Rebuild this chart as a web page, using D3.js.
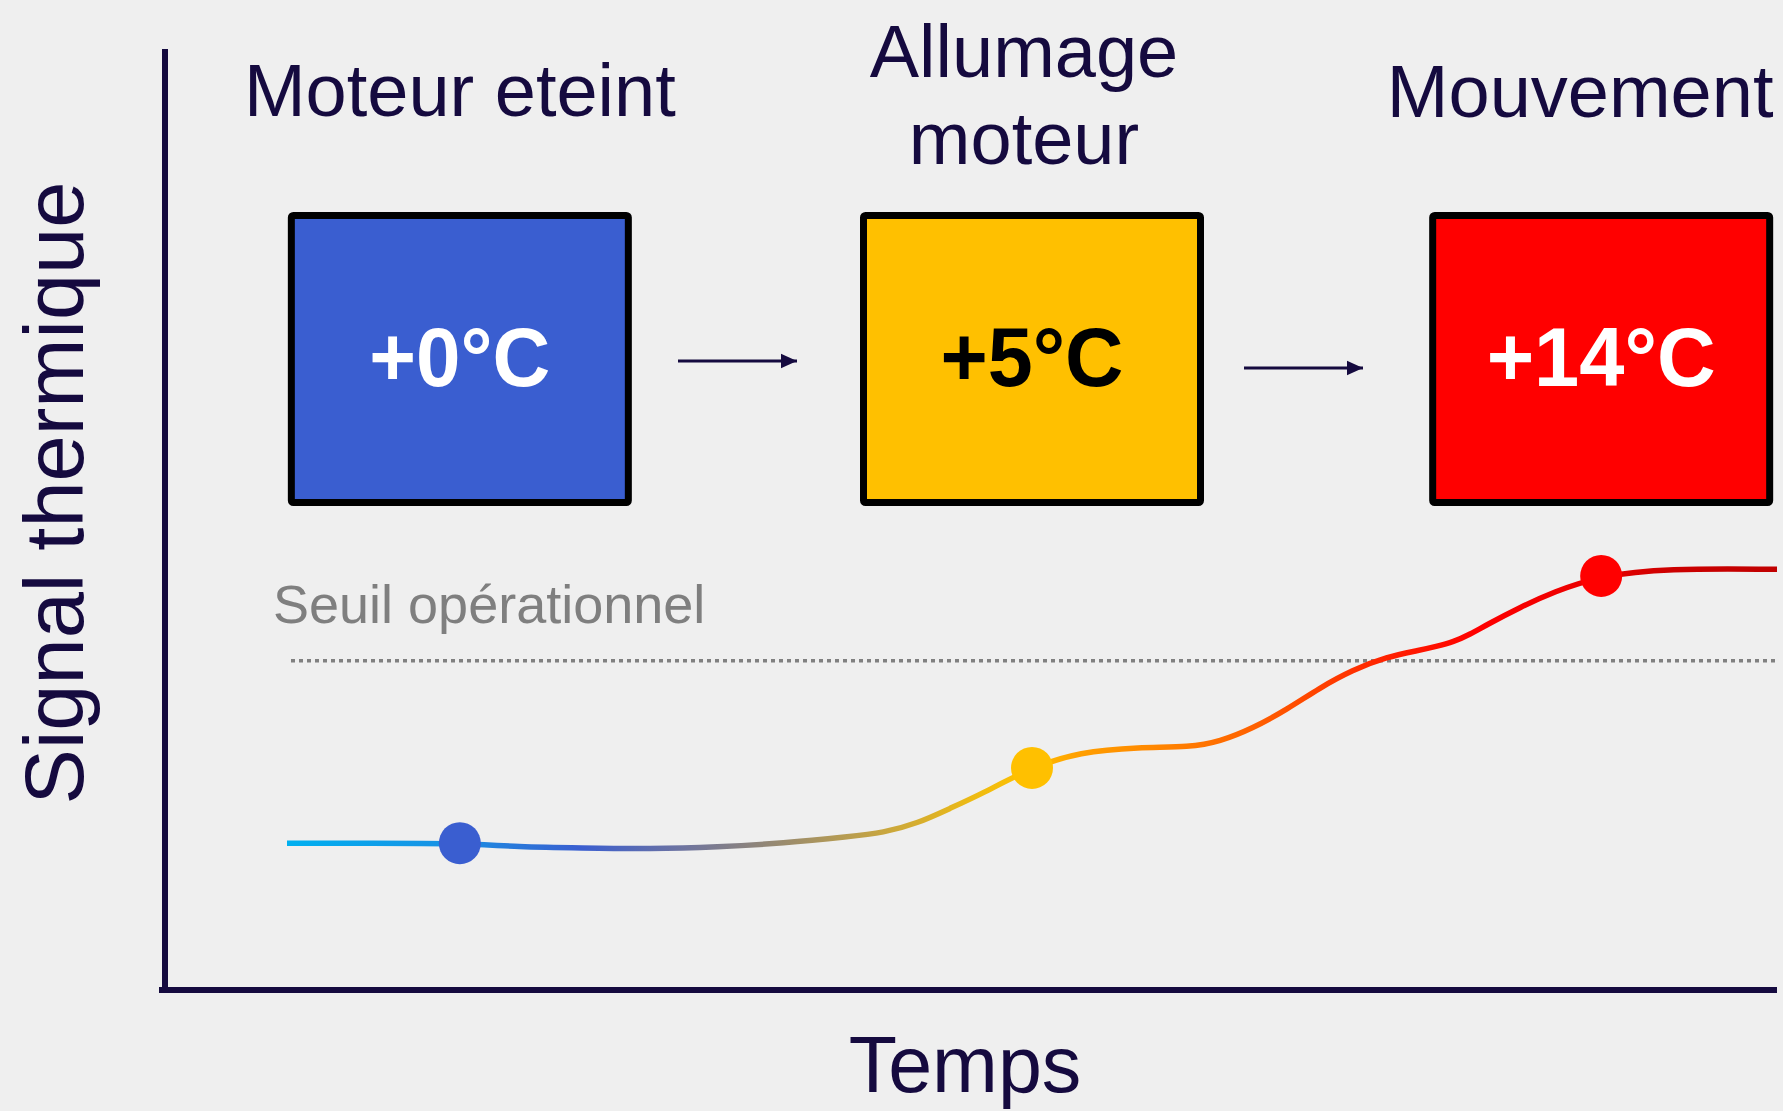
<!DOCTYPE html>
<html>
<head>
<meta charset="utf-8">
<script src="https://cdn.jsdelivr.net/npm/d3@7"></script>
<style>
  html, body { margin: 0; padding: 0; background: #efefef; }
  svg { display: block; font-family: "Liberation Sans", Arial, sans-serif; }
</style>
</head>
<body>
<div id="chart"></div>
<script>
// thermal signal over time (arbitrary units 0-100)
var curveTime   = [0, 5.7, 11.5, 15.6, 19.7, 24.4, 28.9, 33.3, 37.8, 40.0, 42.3, 44.5, 46.7, 49.9, 53.2, 57.2, 60.6, 62.6, 64.8, 67.1, 69.3, 71.5, 73.8, 76.0, 77.1, 78.3, 79.4, 80.5, 82.8, 85.0, 88.1, 92.6, 100];
var curveSignal = [15.6, 15.6, 15.6, 15.2, 15.1, 15.0, 15.2, 15.6, 16.3, 16.7, 17.7, 19.3, 20.9, 23.6, 25.3, 25.8, 25.8, 26.4, 27.8, 29.8, 32.1, 34.0, 35.4, 36.1, 36.5, 37.0, 37.8, 38.8, 40.7, 42.3, 44.0, 44.8, 44.7];

var stateNames  = [["Moteur eteint"], ["Allumage", "moteur"], ["Mouvement"]];
var stateTime   = [11.6, 50, 88.2];
var stateSignal = [15.6, 23.6, 44.0];
var stateDelta  = ["+0°C", "+5°C", "+14°C"];
var stateFill   = ["#3a5ed0", "#ffc000", "#ff0000"];
var stateInk    = ["#ffffff", "#000000", "#ffffff"];

var threshold = 35;
var thresholdLabel = "Seuil opérationnel";

var W = 1783, H = 1111;
var navy = "#150a3f";

var svg = d3.select("#chart").append("svg")
    .attr("width", W)
    .attr("height", H);

svg.append("rect").attr("width", W).attr("height", H).attr("fill", "#efefef");

var x = d3.scaleLinear().domain([0, 100]).range([287, 1777]);
var y = d3.scaleLinear().domain([0, 100]).range([990, 49]);

// gradient along the curve
var stops = [
  [0, "#00b0f0"], [11.5, "#1a8fe3"], [19.7, "#3a5ed0"], [26, "#6a72a4"],
  [33, "#988a70"], [40, "#c8a640"], [46.5, "#f0bc10"], [49.9, "#ffc000"],
  [53, "#ffa000"], [58, "#ff8800"], [65, "#ff6000"], [74, "#ff2000"],
  [80, "#ff0000"], [88, "#e80000"], [93, "#cc0000"], [100, "#c00000"]
];
var grad = svg.append("defs").append("linearGradient")
    .attr("id", "heat")
    .attr("gradientUnits", "userSpaceOnUse")
    .attr("x1", x(0)).attr("x2", x(100))
    .attr("y1", 0).attr("y2", 0);
grad.selectAll("stop").data(stops).enter().append("stop")
    .attr("offset", function(d) { return d[0] / 100; })
    .attr("stop-color", function(d) { return d[1]; });

svg.append("defs").append("marker")
    .attr("id", "head")
    .attr("viewBox", "0 0 10 10")
    .attr("refX", 10).attr("refY", 5)
    .attr("markerUnits", "userSpaceOnUse")
    .attr("markerWidth", 16).attr("markerHeight", 16)
    .attr("orient", "auto")
  .append("path")
    .attr("d", "M0,0.5 L10,5 L0,9.5 Z")
    .attr("fill", navy);

// axes
svg.append("line")
    .attr("x1", 165).attr("x2", 165)
    .attr("y1", y(100)).attr("y2", y(0) + 3)
    .attr("stroke", navy).attr("stroke-width", 6);
svg.append("line")
    .attr("x1", 159).attr("x2", x(100))
    .attr("y1", y(0)).attr("y2", y(0))
    .attr("stroke", navy).attr("stroke-width", 6);

svg.append("text")
    .attr("transform", "translate(83," + 493 + ") rotate(-90)")
    .attr("text-anchor", "middle")
    .attr("font-size", 83)
    .attr("fill", navy)
    .text("Signal thermique");

svg.append("text")
    .attr("x", 965).attr("y", 1092)
    .attr("text-anchor", "middle")
    .attr("font-size", 79)
    .attr("fill", navy)
    .text("Temps");

// threshold
svg.append("line")
    .attr("x1", 291).attr("x2", x(100))
    .attr("y1", y(threshold)).attr("y2", y(threshold))
    .attr("stroke", "#808080").attr("stroke-width", 3.5)
    .attr("stroke-dasharray", "4,4");
svg.append("text")
    .attr("x", 273).attr("y", y(threshold) - 38)
    .attr("font-size", 54)
    .attr("fill", "#7f7f7f")
    .text(thresholdLabel);

// signal curve
var pts = curveTime.map(function(t, i) { return [t, curveSignal[i]]; });
var line = d3.line()
    .x(function(d) { return x(d[0]); })
    .y(function(d) { return y(d[1]); })
    .curve(d3.curveBasis);
svg.append("path")
    .attr("d", line(pts))
    .attr("fill", "none")
    .attr("stroke", "url(#heat)")
    .attr("stroke-width", 5.5)
    .attr("stroke-linejoin", "round");

svg.selectAll("circle.state")
    .data(stateTime)
    .enter().append("circle")
    .attr("class", "state")
    .attr("cx", function(d) { return x(d); })
    .attr("cy", function(d, i) { return y(stateSignal[i]); })
    .attr("r", 21)
    .attr("fill", function(d, i) { return stateFill[i]; });

// state boxes
var boxW = 337, boxH = 287, boxTop = 215.5;
var boxes = svg.selectAll("g.box")
    .data(stateTime)
    .enter().append("g")
    .attr("class", "box");
boxes.append("rect")
    .attr("x", function(d) { return x(d) - boxW / 2; })
    .attr("y", boxTop)
    .attr("width", boxW)
    .attr("height", boxH)
    .attr("rx", 2)
    .attr("fill", function(d, i) { return stateFill[i]; })
    .attr("stroke", "#000")
    .attr("stroke-width", 7);
boxes.append("text")
    .attr("x", function(d) { return x(d); })
    .attr("y", 386)
    .attr("text-anchor", "middle")
    .attr("font-size", 84)
    .attr("font-weight", "bold")
    .attr("textLength", function(d, i) { return [181, 183, 229][i]; })
    .attr("lengthAdjust", "spacingAndGlyphs")
    .attr("fill", function(d, i) { return stateInk[i]; })
    .text(function(d, i) { return stateDelta[i]; });

// titles above boxes
var titleBase = [[116], [77, 164], [117]];
var titleShift = [0, -8, -21];
stateNames.forEach(function(lines, i) {
  lines.forEach(function(s, j) {
    svg.append("text")
      .attr("x", x(stateTime[i]) + titleShift[i])
      .attr("y", titleBase[i][j])
      .attr("text-anchor", "middle")
      .attr("font-size", 74)
      .attr("fill", navy)
      .text(s);
  });
});

// arrows between boxes
var arrows = [[678, 797, 361], [1244, 1363, 368]];
svg.selectAll("line.arrow")
    .data(arrows)
    .enter().append("line")
    .attr("class", "arrow")
    .attr("x1", function(d) { return d[0]; })
    .attr("x2", function(d) { return d[1]; })
    .attr("y1", function(d) { return d[2]; })
    .attr("y2", function(d) { return d[2]; })
    .attr("stroke", navy)
    .attr("stroke-width", 3)
    .attr("marker-end", "url(#head)");
</script>
</body>
</html>
